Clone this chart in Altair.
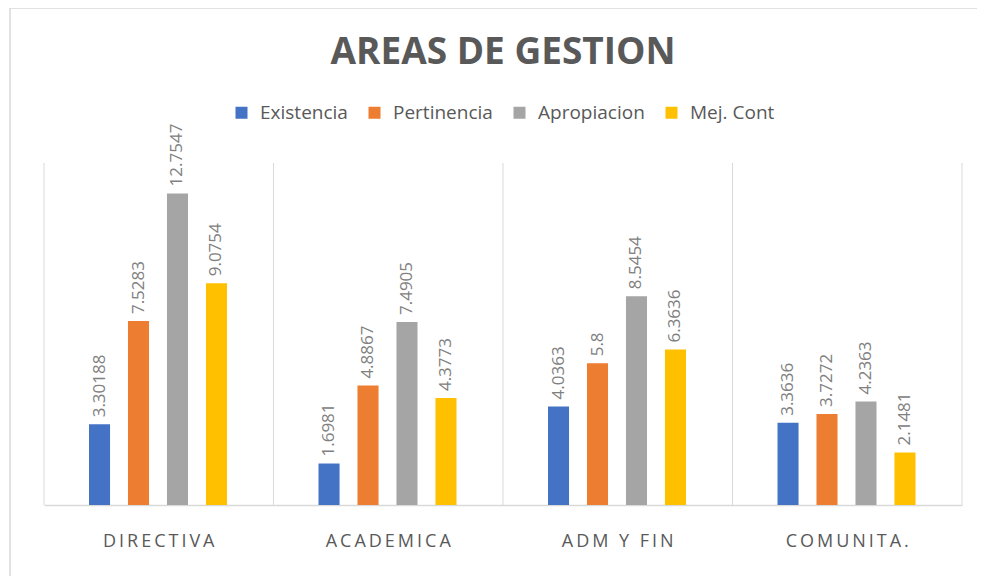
import altair as alt
import pandas as pd

categories = ["DIRECTIVA", "ACADEMICA", "ADM Y FIN", "COMUNITA."]
series = ["Existencia", "Pertinencia", "Apropiacion", "Mej. Cont"]
existencia = [3.30188, 1.6981, 4.0363, 3.3636]
pertinencia = [7.5283, 4.8867, 5.8, 3.7272]
apropiacion = [12.7547, 7.4905, 8.5454, 4.2363]
mej_cont = [9.0754, 4.3773, 6.3636, 2.1481]
colors = ["#4472C4", "#ED7D31", "#A5A5A5", "#FFC000"]

rows = []
for s, vals in zip(series, [existencia, pertinencia, apropiacion, mej_cont]):
    for c, v in zip(categories, vals):
        rows.append({"area": c, "serie": s, "valor": v, "etiqueta": f"{v:g}"})
df = pd.DataFrame(rows)

W, H = 918, 342
TOP = 155
FONT = "Open Sans"

x_axis = alt.Axis(title=None, grid=False, ticks=False, domainColor="#d9d9d9",
                  domainWidth=1.5, labelPadding=27, labelFont=FONT,
                  labelFontSize=18, labelColor="#595959", labelAngle=0,
                  bandPosition=0.5, labelAlign="center",
                  labelExpr="join(split(datum.label, ''), '\u2009')")
x_scale = alt.Scale(paddingInner=0, paddingOuter=0)
x_enc = alt.X("area:N", sort=categories, scale=x_scale, axis=x_axis)
xoff = alt.XOffset("serie:N", sort=series,
                   scale=alt.Scale(range=[45, 183], paddingInner=0.46, paddingOuter=0))
y_enc = alt.Y("valor:Q", scale=alt.Scale(domain=[0, 14], nice=False), axis=None)

border = alt.Chart(pd.DataFrame({"k": [0]})).mark_rect(
    filled=False, stroke="#d9d9d9", strokeWidth=1.5
).encode(x=alt.value(-34), x2=alt.value(940), y=alt.value(-TOP), y2=alt.value(430))

grid = alt.Chart(pd.DataFrame({"area": categories})).mark_rule(
    color="#d9d9d9", strokeWidth=1
).encode(
    x=alt.X("area:N", sort=categories, scale=x_scale, bandPosition=0, axis=x_axis),
    y=alt.value(0), y2=alt.value(H),
)
right_edge = alt.Chart(pd.DataFrame({"k": [0]})).mark_rule(
    color="#d9d9d9", strokeWidth=1
).encode(x=alt.value(W), y=alt.value(0), y2=alt.value(H))

base = alt.Chart(df)
bars = base.mark_bar().encode(
    x=x_enc, xOffset=xoff, y=y_enc,
    color=alt.Color(
        "serie:N", sort=series,
        scale=alt.Scale(domain=series, range=colors),
        legend=alt.Legend(title=None, orient="none", legendX=188, legendY=-60,
                          direction="horizontal", symbolType="square",
                          symbolSize=144, symbolStrokeWidth=0,
                          labelFont=FONT, labelFontSize=19, labelColor="#595959",
                          labelOffset=9, columnPadding=17),
    ),
)
labels = base.mark_text(
    angle=270, align="left", baseline="middle", dx=7,
    font=FONT, fontSize=17, color="#808080",
).encode(x=x_enc, xOffset=xoff, y=y_enc, text="etiqueta:N")

chart = alt.layer(border, grid, right_edge, bars, labels).properties(
    width=W, height=H,
    autosize=alt.AutoSizeParams(type="none"),
    padding={"left": 36, "top": TOP, "right": 15, "bottom": 584 - 16 - TOP - H},
    background="white",
    title=alt.TitleParams("AREAS DE GESTION", font=FONT, fontSize=37,
                          fontWeight="bold", color="#595959", anchor="middle",
                          frame="group", offset=-65),
).configure_view(stroke=None)

chart.save("out.html", embed_options={"renderer": "svg", "actions": False})
